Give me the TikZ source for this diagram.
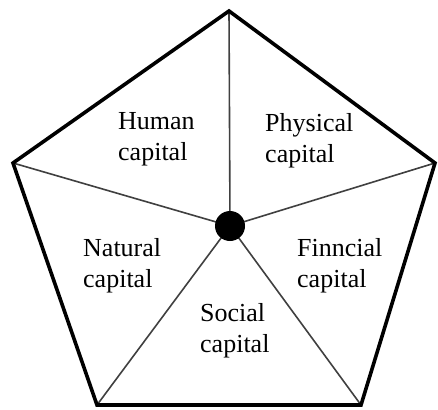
\documentclass[tikz,border=0pt]{standalone}
\usepackage{fontspec}
\setmainfont{Liberation Serif}
\begin{document}
\begin{tikzpicture}[x=1pt,y=-1pt,
  outer/.style={line width=3.6pt,line join=miter,black},
  spoke/.style={line width=1.6pt,draw=black!75},
  lbl/.style={anchor=north west,inner sep=0pt,align=left,font=\fontsize{26}{31}\selectfont}]
\useasboundingbox[fill=white] (0,0) rectangle (438,409);
\coordinate (T) at (229,11);
\coordinate (R) at (435,163);
\coordinate (BR) at (361,405);
\coordinate (BL) at (97,405);
\coordinate (L) at (13,163);
\coordinate (C) at (230,226);
\draw[spoke] (C) -- (T);
\draw[spoke] (C) -- (R);
\draw[spoke] (C) -- (BR);
\draw[spoke] (C) -- (BL);
\draw[spoke] (C) -- (L);
\draw[outer] (T) -- (R) -- (BR) -- (BL) -- (L) -- cycle;
\fill[black] (C) circle (15);
\node[lbl] (human) at (118,112) {Human\\capital};
\node[lbl] (physical) at (265,113) {Physical\\capital};
\node[lbl] (natural) at (83,238) {Natural\\capital};
\node[lbl] (financial) at (297,238) {Finncial\\capital};
\node[lbl] (social) at (200,303) {Social\\capital};
\end{tikzpicture}
\end{document}
